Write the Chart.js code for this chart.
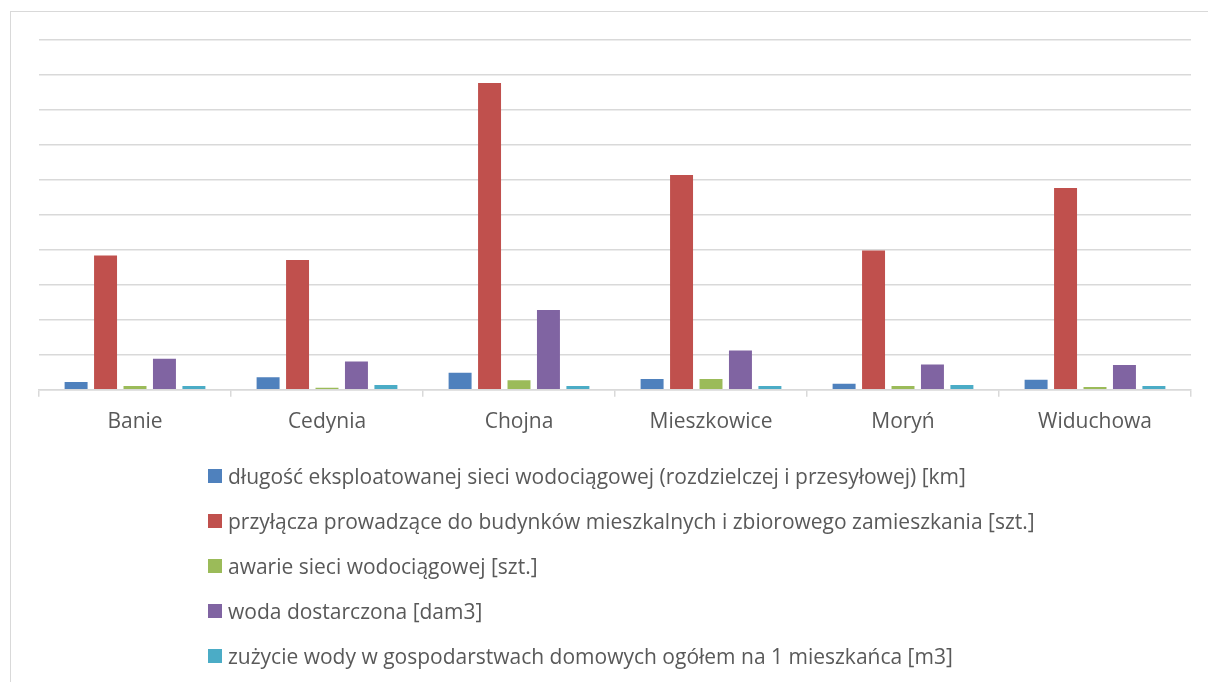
<!DOCTYPE html>
<html>
<head>
<meta charset="utf-8">
<script src="https://cdn.jsdelivr.net/npm/chart.js@4.4.0/dist/chart.umd.min.js"></script>
<style>
    html, body { margin: 0; padding: 0; background: #fff; overflow: hidden; }
    body { width: 1208px; height: 682px; position: relative; font-family: "Open Sans", sans-serif; }
    #frame { position: absolute; left: 10px; top: 11px; width: 1300px; height: 800px; border: 1px solid #d9d9d9; }
    #chartBox { position: absolute; left: 0; top: 0; width: 1208px; height: 455px; }
    #legend { position: absolute; left: 208px; top: 453px; color: #595959; font-size: 21px; }
    #legend .item { height: 45px; display: flex; align-items: center; white-space: nowrap; }
    #legend .box { width: 14px; height: 14px; margin-right: 6px; flex: none; }
</style>
</head>
<body>
<div id="frame"></div>
<div id="chartBox"><canvas id="waterChart" width="1208" height="455"></canvas></div>
<div id="legend"></div>
<script>
const gminy = ['Banie', 'Cedynia', 'Chojna', 'Mieszkowice', 'Moryń', 'Widuchowa'];
const seriesNames = [
    'długość eksploatowanej sieci wodociągowej (rozdzielczej i przesyłowej) [km]',
    'przyłącza prowadzące do budynków mieszkalnych i zbiorowego zamieszkania [szt.]',
    'awarie sieci wodociągowej [szt.]',
    'woda dostarczona [dam3]',
    'zużycie wody w gospodarstwach domowych ogółem na 1 mieszkańca [m3]'
];
const dlugoscSieci = [22, 36, 49, 31, 17, 29];
const przylacza = [384, 371, 877, 614, 398, 577];
const awarie = [11, 6, 27, 31, 11, 8];
const wodaDostarczona = [89, 81, 228, 112, 72, 71];
const zuzycieWody = [11, 14, 11, 11, 14, 11];
const colors = ['#4F81BD', '#C0504D', '#9BBB59', '#8064A2', '#4BACC6'];

const seriesValues = [dlugoscSieci, przylacza, awarie, wodaDostarczona, zuzycieWody];

const ctx = document.getElementById('waterChart').getContext('2d');
const chart = new Chart(ctx, {
    type: 'bar',
    data: {
        labels: gminy,
        datasets: seriesValues.map(function (vals, i) {
            return {
                label: seriesNames[i],
                data: vals,
                backgroundColor: colors[i],
                categoryPercentage: 0.767,
                barPercentage: 0.78
            };
        })
    },
    options: {
        responsive: false,
        animation: false,
        layout: { padding: { left: 39, right: 17, top: 40, bottom: 7 } },
        plugins: {
            legend: { display: false },
            tooltip: { enabled: false }
        },
        scales: {
            x: {
                grid: { drawOnChartArea: false, drawTicks: true, tickLength: 7, color: '#d9d9d9', lineWidth: 1.5, offset: true },
                border: { color: '#d9d9d9', width: 1.5 },
                ticks: { color: '#595959', font: { family: 'Open Sans', size: 21 }, padding: 13 }
            },
            y: {
                min: 0,
                max: 1000,
                ticks: { display: false, stepSize: 100 },
                grid: { color: '#d9d9d9', lineWidth: 1.5, drawTicks: false },
                border: { display: false }
            }
        }
    }
});

// legend in one column, left aligned like in the original
const legendEl = document.getElementById('legend');
chart.data.datasets.forEach(function (ds) {
    const row = document.createElement('div');
    row.className = 'item';
    const box = document.createElement('span');
    box.className = 'box';
    box.style.background = ds.backgroundColor;
    const txt = document.createElement('span');
    txt.textContent = ds.label;
    row.appendChild(box);
    row.appendChild(txt);
    legendEl.appendChild(row);
});
</script>
</body>
</html>
